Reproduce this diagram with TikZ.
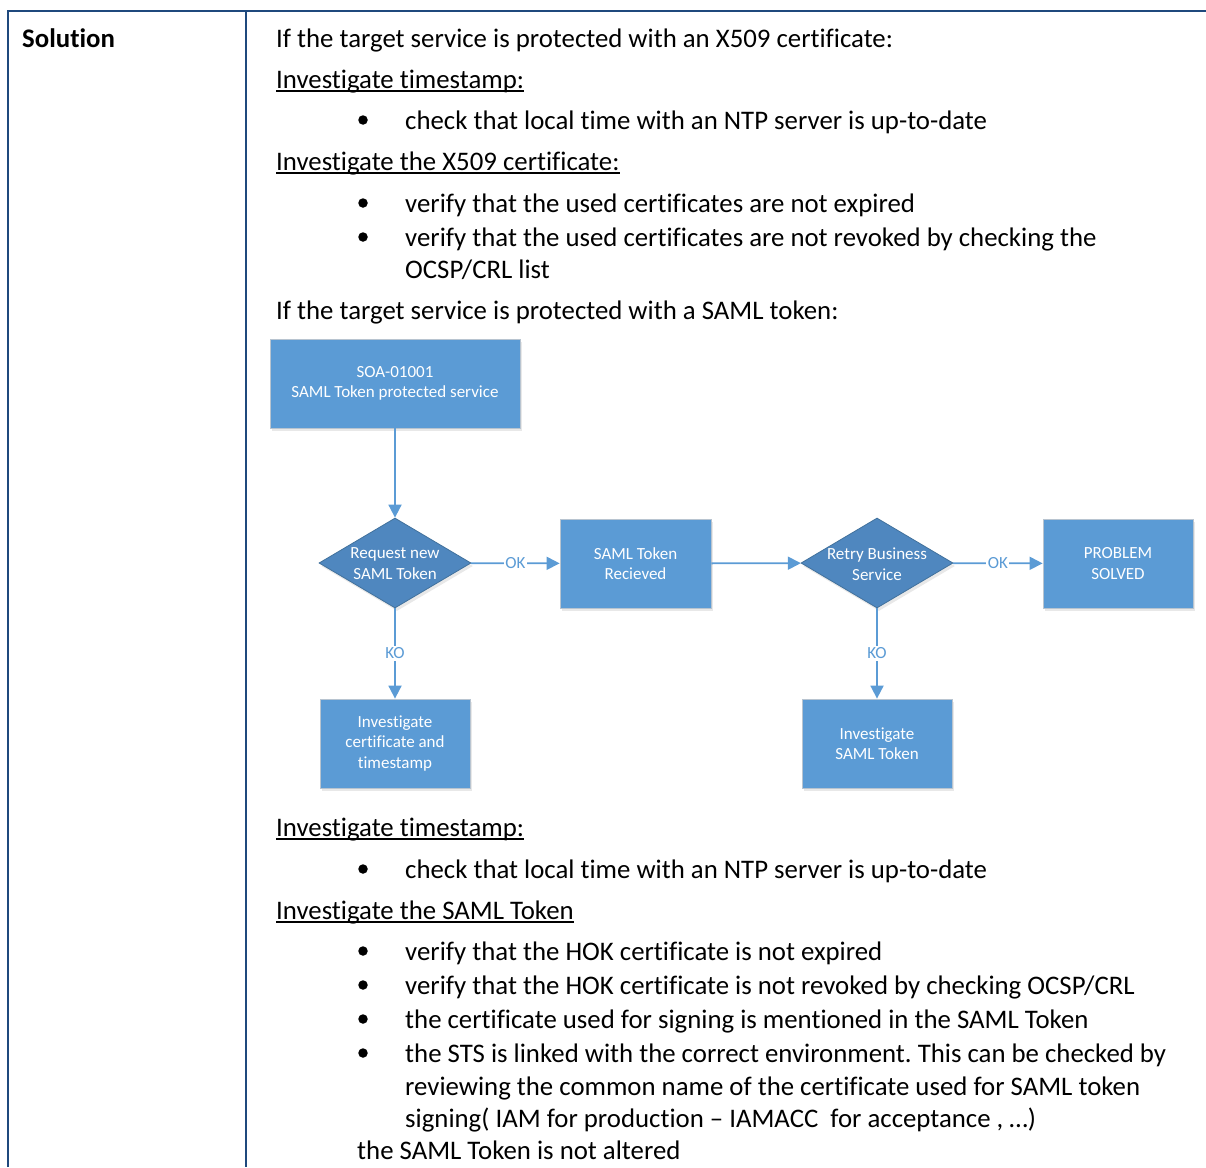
\documentclass[tikz,border=0pt]{standalone}
\usepackage{fontspec}
\setmainfont[Ligatures=NoCommon]{Carlito}
\usetikzlibrary{arrows.meta,shapes.geometric,shadows}
\definecolor{tblue}{HTML}{1F497D}
\definecolor{bfill}{HTML}{5B9BD5}
\definecolor{dfill}{HTML}{4F87BF}
\definecolor{dline}{HTML}{41719C}
\definecolor{bline}{HTML}{B8C4D0}
\tikzset{
  txt/.style={anchor=base west, inner sep=0pt, font=\fontsize{26.8}{32}\selectfont},
  btxt/.style={txt, font=\fontsize{26.8}{32}\selectfont\bfseries},
  bul/.style={circle, fill=black, inner sep=0pt, minimum size=9.5pt},
  ul/.style={line width=1.8pt},
  frame/.style={tblue, line width=2.4pt},
  fbox/.style={rectangle, fill=bfill, draw=bline, line width=0.8pt, text=white, align=center,
    font=\fontsize{17}{20.5}\selectfont, inner sep=0pt,
    drop shadow={shadow xshift=2pt, shadow yshift=-3pt, opacity=0.18, fill=gray}},
  dia/.style={diamond, fill=dfill, draw=dline, line width=0.8pt, inner sep=0pt,
    minimum width=152pt, minimum height=90pt,
    drop shadow={shadow xshift=2pt, shadow yshift=-3pt, opacity=0.18, fill=gray}},
  dtxt/.style={text=white, align=center, font=\fontsize{17}{21}\selectfont, inner sep=0pt},
  arr/.style={draw=bfill, line width=1.8pt, -{Triangle[length=13pt,width=13pt]}},
  lbl/.style={fill=white, text=bfill, inner sep=1.5pt, font=\fontsize{17}{20}\selectfont},
}
\begin{document}
\frenchspacing
\begin{tikzpicture}[x=1pt,y=-1pt]
\useasboundingbox (0,0) rectangle (1206,1167);
% table frame
\draw[frame] (8,1167) -- (8,11) -- (1206,11);
\draw[frame] (246,11) -- (246,1167);

\node[btxt] (sol) at (22,47) {Solution};

\node[txt] (t1) at (276,47) {If the target service is protected with an X509 certificate:};
\node[txt] (h1) at (276,88) {Investigate timestamp:};
\draw[ul] ([yshift=-3pt]h1.base west) -- ([yshift=-3pt]h1.base east);
\node[bul] (u1) at (363,120) {};
\node[txt] (l1) at (405,129) {check that local time with an NTP server is up-to-date};
\node[txt] (h2) at (276,170) {Investigate the X509 certificate:};
\draw[ul] ([yshift=-3pt]h2.base west) -- ([yshift=-3pt]h2.base east);
\node[bul] (u2) at (363,203) {};
\node[txt] (l2) at (405,212) {verify that the used certificates are not expired};
\node[bul] (u3) at (363,237) {};
\node[txt] (l3) at (405,246) {verify that the used certificates are not revoked by checking the};
\node[txt] (l3b) at (405,278) {OCSP/CRL list};
\node[txt] (t2) at (276,319) {If the target service is protected with a SAML token:};

% flowchart
\node[fbox, minimum width=250pt, minimum height=89pt] (b1) at (395,383.5) {SOA-01001\\SAML Token protected service};
\node[dia] (d1) at (395,563) {};
\node[dtxt] (d1t) at ([yshift=-1pt]d1.center) {Request new\\SAML Token};
\node[fbox, minimum width=151pt, minimum height=89pt] (b2) at (635.5,563.5) {SAML Token\\Recieved};
\node[dia] (d2) at (877,563) {};
\node[dtxt] (d2t) at ([yshift=-1pt]d2.center) {Retry Business\\Service};
\node[fbox, minimum width=150pt, minimum height=89pt] (b3) at (1118,563.5) {PROBLEM\\SOLVED};
\node[fbox, minimum width=150pt, minimum height=89pt] (b4) at (395,743.5) {Investigate\\certificate and\\timestamp};
\node[fbox, minimum width=150pt, minimum height=89pt] (b5) at (877,743.5) {Investigate\\SAML Token};

\draw[arr] (b1) -- (d1);
\draw[arr] (d1) -- node[lbl] (ok1) {OK} (b2);
\draw[arr] (b2) -- (d2);
\draw[arr] (d2) -- node[lbl] (ok2) {OK} (b3);
\draw[arr] (d1) -- node[lbl] (ko1) {KO} (b4);
\draw[arr] (d2) -- node[lbl] (ko2) {KO} (b5);

% lower text
\node[txt] (h3) at (276,836) {Investigate timestamp:};
\draw[ul] ([yshift=-3pt]h3.base west) -- ([yshift=-3pt]h3.base east);
\node[bul] (u4) at (363,869) {};
\node[txt] (l4) at (405,878) {check that local time with an NTP server is up-to-date};
\node[txt] (h4) at (276,919) {Investigate the SAML Token};
\draw[ul] ([yshift=-3pt]h4.base west) -- ([yshift=-3pt]h4.base east);
\node[bul] (u5) at (363,951) {};
\node[txt] (l5) at (405,960) {verify that the HOK certificate is not expired};
\node[bul] (u6) at (363,985) {};
\node[txt] (l6) at (405,994) {verify that the HOK certificate is not revoked by checking OCSP/CRL};
\node[bul] (u7) at (363,1019) {};
\node[txt] (l7) at (405,1028) {the certificate used for signing is mentioned in the SAML Token};
\node[bul] (u8) at (363,1053) {};
\node[txt] (l8) at (405,1062) {the STS is linked with the correct environment. This can be checked by};
\node[txt] (l8b) at (405,1095) {reviewing the common name of the certificate used for SAML token};
\node[txt] (l8c) at (405,1127) {signing( IAM for production – IAMACC\ \ for acceptance , …)};
\node[txt] (l9) at (357,1159) {the SAML Token is not altered};
\end{tikzpicture}
\end{document}
